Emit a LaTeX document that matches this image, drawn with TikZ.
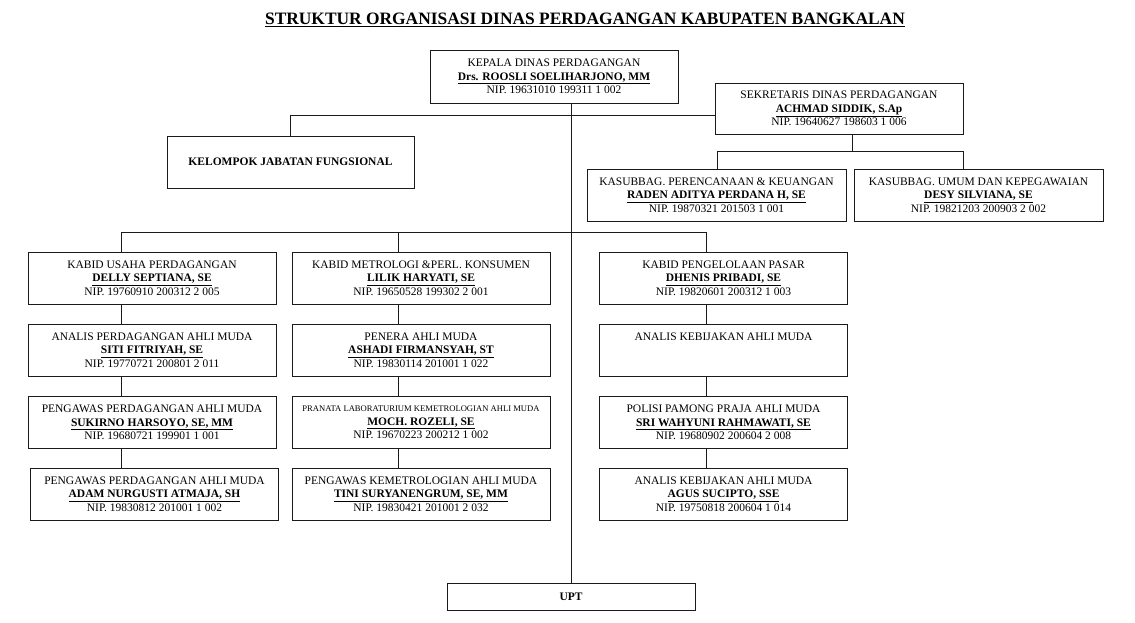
\documentclass[tikz,border=0pt]{standalone}
\usepackage{fontspec}
\setmainfont{Liberation Serif}
\usepackage{xcolor}
\definecolor{ink}{HTML}{1A1A1A}
\usetikzlibrary{positioning,calc}
\newcommand{\nama}[1]{\underline{\textbf{#1}}}
\tikzset{
  font=\fontsize{11.5}{13.5}\selectfont,
  box/.style={draw=ink,line width=0.9pt,fill=white,align=center,inner sep=0pt,
              minimum width=248pt,minimum height=52pt},
  widebox/.style={box,minimum width=258pt},
  lowbox/.style={box,minimum height=27pt,font=\fontsize{11.5}{13.5}\selectfont\bfseries},
  link/.style={draw=ink,line width=0.9pt},
  judul/.style={font=\fontsize{17.4}{20}\selectfont\bfseries,inner sep=0pt},
}

\begin{document}
\begin{tikzpicture}[x=1pt,y=-1pt]
  \useasboundingbox (0,0) rectangle (1135,623);
  \node[judul] (title) at (585,19.5) {\underline{STRUKTUR ORGANISASI DINAS PERDAGANGAN KABUPATEN BANGKALAN}};

  % pimpinan
  \node[box,minimum height=53pt] (kepala) at (554,76.5) {KEPALA DINAS PERDAGANGAN\\\nama{Drs. ROOSLI SOELIHARJONO, MM}\\NIP. 19631010 199311 1 002};
  \node[box,minimum height=51pt] (sek) at (839,108.5) {SEKRETARIS DINAS PERDAGANGAN\\\nama{ACHMAD SIDDIK, S.Ap}\\NIP. 19640627 198603 1 006};
  \node[box,minimum width=247pt] (kjf) at (290.5,162) {\textbf{KELOMPOK JABATAN FUNGSIONAL}};
  \node[box,minimum width=259pt] (pk) at (716.5,195) {KASUBBAG. PERENCANAAN \& KEUANGAN\\\nama{RADEN ADITYA PERDANA H, SE}\\NIP. 19870321 201503 1 001};
  \node[box,minimum width=249pt] (umum) at (978.5,195) {KASUBBAG. UMUM DAN KEPEGAWAIAN\\\nama{DESY SILVIANA, SE}\\NIP. 19821203 200903 2 002};

  % bidang perdagangan
  \node[box] (dag1) at (152,278) {KABID USAHA PERDAGANGAN\\\nama{DELLY SEPTIANA, SE}\\NIP. 19760910 200312 2 005};
  \node[box] (dag2) at (152,350) {ANALIS PERDAGANGAN AHLI MUDA\\\nama{SITI FITRIYAH, SE}\\NIP. 19770721 200801 2 011};
  \node[box] (dag3) at (152,422.5) {PENGAWAS PERDAGANGAN AHLI MUDA\\\nama{SUKIRNO HARSOYO, SE, MM}\\NIP. 19680721 199901 1 001};
  \node[box] (dag4) at (154.5,494) {PENGAWAS PERDAGANGAN AHLI MUDA\\\nama{ADAM NURGUSTI ATMAJA, SH}\\NIP. 19830812 201001 1 002};

  % bidang metrologi
  \node[widebox] (met1) at (421,278) {KABID METROLOGI \&PERL. KONSUMEN\\\nama{LILIK HARYATI, SE}\\NIP. 19650528 199302 2 001};
  \node[widebox] (met2) at (421,350) {PENERA AHLI MUDA\\\nama{ASHADI FIRMANSYAH, ST}\\NIP. 19830114 201001 1 022};
  \node[widebox] (met3) at (421,422.5) {{\fontsize{8.6}{13.5}\selectfont PRANATA LABORATURIUM KEMETROLOGIAN AHLI MUDA}\\\nama{MOCH. ROZELI, SE}\\NIP. 19670223 200212 1 002};
  \node[widebox] (met4) at (421,494) {PENGAWAS KEMETROLOGIAN AHLI MUDA\\\nama{TINI SURYANENGRUM, SE, MM}\\NIP. 19830421 201001 2 032};

  % bidang pasar
  \node[box] (pas1) at (723.5,278) {KABID PENGELOLAAN PASAR\\\nama{DHENIS PRIBADI, SE}\\NIP. 19820601 200312 1 003};
  \node[box] (pas2) at (723.5,350) {ANALIS KEBIJAKAN AHLI MUDA\\~\\~};
  \node[box] (pas3) at (723.5,422.5) {POLISI PAMONG PRAJA AHLI MUDA\\\nama{SRI WAHYUNI RAHMAWATI, SE}\\NIP. 19680902 200604 2 008};
  \node[box] (pas4) at (723.5,494) {ANALIS KEBIJAKAN AHLI MUDA\\\nama{AGUS SUCIPTO, SSE}\\NIP. 19750818 200604 1 014};

  \node[lowbox] (upt) at (571,596.5) {UPT};

  % garis komando
  \coordinate (sekbus) at (852,151);
  \coordinate (pkdrop) at (717,151);
  \coordinate (umdrop) at (963,151);
  \coordinate (busA) at (121,232);
  \coordinate (busB) at (398,232);
  \coordinate (busC) at (706,232);

  \draw[link] (kepala.south -| upt.north) -- (upt.north);
  \draw[link] (kjf.north) |- ([yshift=-7pt]sek.west);
  \draw[link] (sekbus |- sek.south) -- (sekbus);
  \draw[link] (pkdrop |- pk.north) -- (pkdrop) -- (umdrop) -- (umdrop |- umum.north);
  \draw[link] (busA |- dag1.north) -- (busA) -- (busC) -- (busC |- pas1.north);
  \draw[link] (busB) -- (busB |- met1.north);

  \draw[link] (busA |- dag1.south) -- (busA |- dag2.north);
  \draw[link] (busA |- dag2.south) -- (busA |- dag3.north);
  \draw[link] (busA |- dag3.south) -- (busA |- dag4.north);
  \draw[link] (busB |- met1.south) -- (busB |- met2.north);
  \draw[link] (busB |- met2.south) -- (busB |- met3.north);
  \draw[link] (busB |- met3.south) -- (busB |- met4.north);
  \draw[link] (busC |- pas1.south) -- (busC |- pas2.north);
  \draw[link] (busC |- pas2.south) -- (busC |- pas3.north);
  \draw[link] (busC |- pas3.south) -- (busC |- pas4.north);
\end{tikzpicture}
\end{document}
